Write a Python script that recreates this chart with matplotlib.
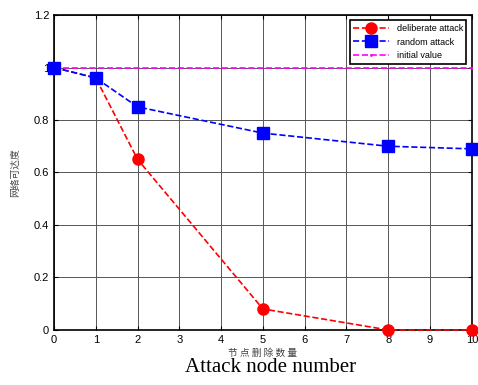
import numpy as np
import matplotlib
matplotlib.use('Agg')
import matplotlib.pyplot as plt

plt.rcParams['font.family'] = ['Liberation Sans', 'Noto Sans CJK SC', 'DejaVu Sans']

x_del = [0, 1, 2, 5, 8, 10]
y_del = [1.0, 0.96, 0.65, 0.08, 0.0, 0.0]
x_rnd = [0, 1, 2, 5, 8, 10]
y_rnd = [1.0, 0.96, 0.85, 0.75, 0.70, 0.69]
x_init = [0, 10]
y_init = [1.0, 1.0]

xticks = list(range(0, 11))
yticks = [0, 0.2, 0.4, 0.6, 0.8, 1.0, 1.2]
ytick_labels = ['0', '0.2', '0.4', '0.6', '0.8', '1', '1.2']

fig = plt.figure(figsize=(4.78, 3.85), dpi=100)
ax = fig.add_axes([0.113, 0.143, 0.874, 0.818])

ax.plot(x_del, y_del, 'r--o', markersize=8, linewidth=1.2, label='deliberate attack', clip_on=False, zorder=4)
ax.plot(x_rnd, y_rnd, 'b--s', markersize=8, linewidth=1.2, label='random attack', clip_on=False, zorder=4)
ax.plot(x_init, y_init, '--', color='magenta', marker='.', markersize=2, linewidth=1.2, label='initial value', zorder=3)

ax.set_xlim(0, 10)
ax.set_ylim(0, 1.2)
ax.set_xticks(xticks)
ax.set_yticks(yticks)
ax.set_yticklabels(ytick_labels)
ax.tick_params(direction='in', top=True, right=True, labelsize=8, length=3)
ax.grid(True, color='#555555', linewidth=0.7)
for s in ax.spines.values():
    s.set_linewidth(1.2)

ax.set_ylabel('网络可达度', family=['Noto Sans CJK SC'], fontsize=7, color='#444444', labelpad=10)
ax.set_xlabel('节 点 删 除 数 量', family=['Noto Sans CJK SC'], fontsize=7, color='#444444', labelpad=2)

leg = ax.legend(loc='upper right', fontsize=6.5, fancybox=False, edgecolor='black',
                framealpha=1, borderaxespad=0.6, handlelength=4)
leg.get_frame().set_linewidth(1.2)

fig.text(0.565, 0.035, 'Attack node number', family='Liberation Serif', fontsize=15, ha='center')

plt.savefig('out.png', dpi=100)
plt.close()
